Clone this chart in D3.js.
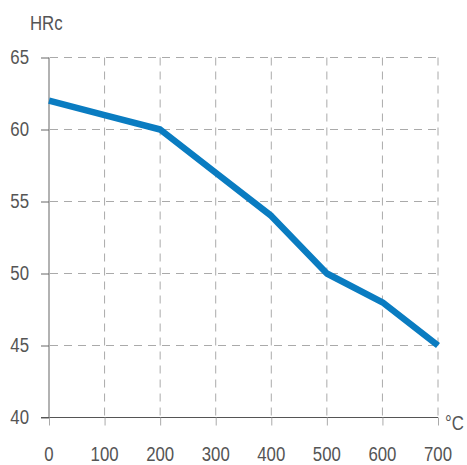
<!DOCTYPE html>
<html><head><meta charset="utf-8">
<script src="https://cdn.jsdelivr.net/npm/d3@7/dist/d3.min.js"></script>
<style>body{margin:0;background:#fff}svg{display:block}text{font-family:"Liberation Sans",Arial,sans-serif;fill:#555}</style>
</head><body><svg id="c" width="467" height="465"></svg>
<script>
const temps = [0,100,200,300,400,500,600,700];
const hardness = [62,61,60,57,54,50,48,45];
const xTicks = [0,100,200,300,400,500,600,700];
const yTicks = [40,45,50,55,60,65];
const yLabel = "HRc", xLabel = "°C";

const svg = d3.select("#c");
const x = d3.scaleLinear().domain([0,700]).range([49,438]);
const y = d3.scaleLinear().domain([40,65]).range([417.5,57.5]);
const SX = 0.8, FS = 21;

function label(g, px, py, txt, anchor){
  g.append("text").attr("transform",`translate(${px},${py}) scale(${SX},1)`)
   .attr("text-anchor",anchor).attr("font-size",FS).text(txt);
}

// grid
svg.append("g").selectAll("line").data(yTicks.filter(d=>d>40)).join("line")
  .attr("x1",50).attr("x2",438).attr("y1",d=>y(d)).attr("y2",d=>y(d))
  .attr("stroke","#aaa").attr("stroke-width",1).attr("stroke-dasharray","8,6");
svg.append("g").selectAll("line").data(xTicks.filter(d=>d>0)).join("line")
  .attr("x1",d=>x(d)).attr("x2",d=>x(d)).attr("y1",57.5).attr("y2",417)
  .attr("stroke","#aaa").attr("stroke-width",1).attr("stroke-dasharray","8,6");

// y axis
const ya = svg.append("g").attr("transform","translate(49,0)")
  .call(d3.axisLeft(y).tickValues(yTicks).tickSize(8).tickFormat(""));
ya.select(".domain").attr("stroke","#999").attr("stroke-width",1.5).attr("d","M0,57.5V417.5");
ya.selectAll(".tick line").attr("stroke","#666");
const yl = svg.append("g");
yTicks.forEach(t=>label(yl, 29, y(t)+6, String(t), "end"));

// x axis
const xa = svg.append("g").attr("transform","translate(0,417.5)")
  .call(d3.axisBottom(x).tickValues(xTicks).tickSize(8).tickFormat(""));
xa.select(".domain").attr("stroke","#555").attr("stroke-width",1.2).attr("d","M41,0H438");
xa.selectAll(".tick line").attr("stroke","#aaa");
const xl = svg.append("g");
xTicks.forEach(t=>label(xl, x(t), 461, String(t), "middle"));

label(svg, 30, 30, yLabel, "start");
label(svg, 445, 430, xLabel, "start");

// line
svg.append("path").datum(temps.map((t,i)=>[t,hardness[i]]))
  .attr("fill","none").attr("stroke","#0a7cc1").attr("stroke-width",6.5)
  .attr("stroke-linejoin","round")
  .attr("d",d3.line().x(d=>x(d[0])).y(d=>y(d[1])));
</script></body></html>
